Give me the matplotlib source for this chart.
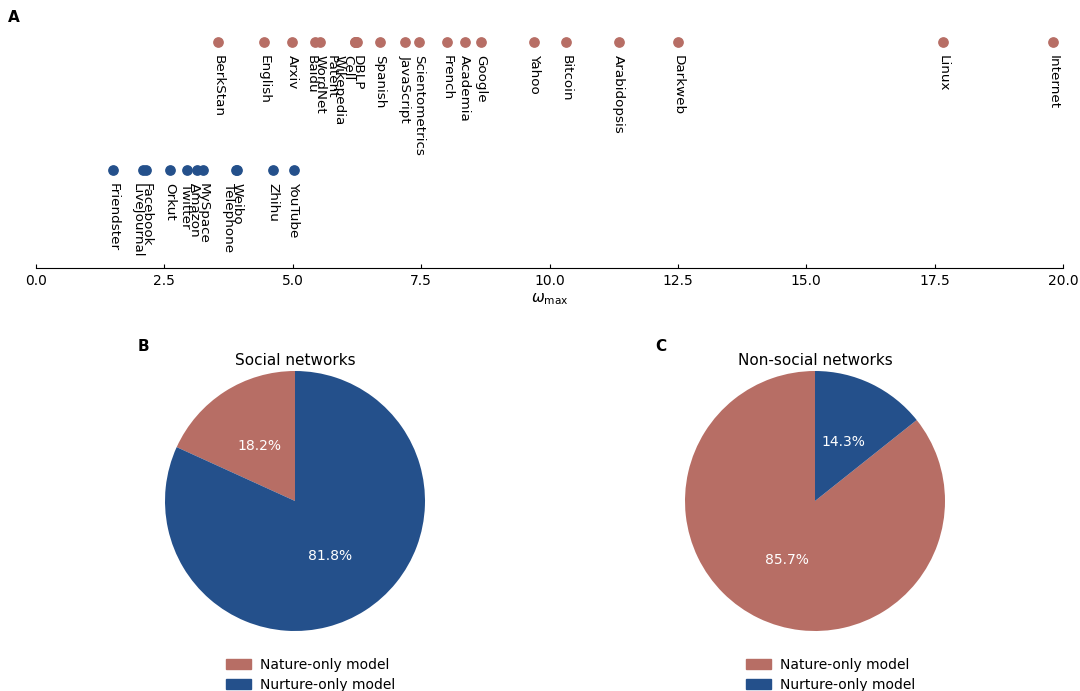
import matplotlib
matplotlib.use('Agg')

import matplotlib.pyplot as plt
from matplotlib.patches import Patch

RED = '#b76e65'
BLUE = '#24508b'

# omega_max of the non-social networks
nonsocial_names = ['BerkStan', 'English', 'Arxiv', 'Baidu', 'WordNet', 'Patent',
                   'Wikepedia', 'Cell', 'DBLP', 'Spanish', 'JavaScript',
                   'Scientometrics', 'French', 'Academia', 'Google', 'Yahoo',
                   'Bitcoin', 'Arabidopsis', 'Darkweb', 'Linux', 'Internet']
nonsocial_omega = [3.54, 4.44, 4.99, 5.43, 5.53, 6.21, 6.22, 6.23, 6.25, 6.70,
                   7.19, 7.46, 8.00, 8.35, 8.67, 9.70, 10.32, 11.35, 12.50,
                   17.66, 19.81]

# omega_max of the social networks
social_names = ['Friendster', 'LiveJournal', 'Facebook', 'Orkut', 'Twitter',
                'Amazon', 'MySpace', 'Telephone', 'Weibo', 'Zhihu', 'YouTube']
social_omega = [1.50, 2.08, 2.14, 2.61, 2.94, 3.13, 3.25, 3.89, 3.91, 4.62, 5.02]

pie_labels = ['Nature-only model', 'Nurture-only model']
social_share = [18.2, 81.8]
nonsocial_share = [85.7, 14.3]


def spread_labels(xs, gap):
    # push overlapping labels to the left, working from the right
    order = sorted(range(len(xs)), key=lambda i: xs[i])
    out = list(xs)
    prev = None
    for i in reversed(order):
        if prev is not None and out[i] > prev - gap:
            out[i] = prev - gap
        prev = out[i]
    return out


def draw_row(ax, names, values, y, color):
    ax.scatter(values, [y] * len(values), s=45, color=color, zorder=3,
               clip_on=False)
    for name, x in zip(names, spread_labels(values, 0.17)):
        ax.text(x, y - 0.1, name, rotation=270, ha='center', va='top',
                fontsize=9.7)


def draw_pie(ax, shares, title):
    ax.pie(shares, colors=[RED, BLUE], startangle=90, autopct='%1.1f%%',
           pctdistance=0.5, textprops={'color': 'white', 'fontsize': 10})
    ax.set_xlim(-1, 1)
    ax.set_ylim(-1, 1)
    ax.set_title(title, fontsize=11, pad=4)
    handles = [Patch(color=RED), Patch(color=BLUE)]
    ax.legend(handles, pie_labels, loc='upper center', frameon=False,
              bbox_to_anchor=(0.56, -0.055), fontsize=10, handleheight=0.75,
              handlelength=1.8, handletextpad=0.7, labelspacing=0.45)


def main():
    fig = plt.figure(figsize=(10.8, 6.91), dpi=100)

    ax = fig.add_axes([36 / 1080., 1 - 268 / 691., 1027 / 1080., 253 / 691.])
    draw_row(ax, nonsocial_names, nonsocial_omega, 1, RED)
    draw_row(ax, social_names, social_omega, 0, BLUE)
    ax.set_xlim(0, 20)
    ax.set_ylim(-0.766, 1.211)
    for side in ['left', 'right', 'top']:
        ax.spines[side].set_visible(False)
    ax.set_yticks([])
    ax.tick_params(axis='x', direction='in', length=3, labelsize=10, pad=4)
    ax.set_xlabel(r'$\omega_{\max}$', fontsize=11, labelpad=3)

    ax_b = fig.add_axes([165 / 1080., 1 - 631 / 691., 260 / 1080., 260 / 691.])
    draw_pie(ax_b, social_share, 'Social networks')
    ax_c = fig.add_axes([685 / 1080., 1 - 631 / 691., 260 / 1080., 260 / 691.])
    draw_pie(ax_c, nonsocial_share, 'Non-social networks')

    fig.text(14 / 1080., 1 - 18 / 691., 'A', fontsize=11, fontweight='bold',
             ha='center', va='center')
    fig.text(143 / 1080., 1 - 347 / 691., 'B', fontsize=11, fontweight='bold',
             ha='center', va='center')
    fig.text(661 / 1080., 1 - 347 / 691., 'C', fontsize=11, fontweight='bold',
             ha='center', va='center')

    fig.savefig('out.png', dpi=100)


if __name__ == '__main__':
    main()
